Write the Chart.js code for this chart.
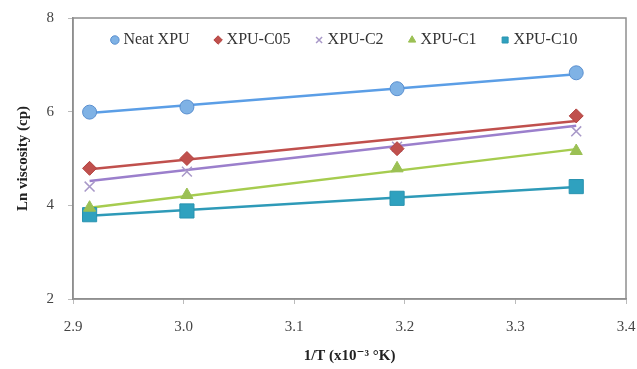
<!DOCTYPE html>
<html>
<head>
<meta charset="utf-8">
<script src="https://cdn.jsdelivr.net/npm/chart.js@4.4.1/dist/chart.umd.min.js"></script>
<style>
    html, body { margin: 0; padding: 0; background: #fff; }
    #wrap { width: 637px; height: 369px; position: relative; }
</style>
</head>
<body>
<div id="wrap"><canvas id="viscChart" width="637" height="369"></canvas></div>
<script>
// 1/T values (x10^-3 K^-1) of the four measurement temperatures
const invT = [2.915, 3.003, 3.193, 3.355];

// Ln viscosity
const neatXpu = [5.99, 6.10, 6.49, 6.83];
const xpuC05 = [4.79, 5.00, 5.21, 5.91];
const xpuC2 = [4.40, 4.72, 5.25, 5.58];
const xpuC1 = [3.95, 4.22, 4.79, 5.16];
const xpuC10 = [3.80, 3.88, 4.15, 4.40];

// trend line ends (first / last temperature)
const trendX = [2.915, 3.355];
const neatTrend = [5.97, 6.80];
const c05Trend = [4.77, 5.80];
const c2Trend = [4.52, 5.70];
const c1Trend = [3.95, 5.20];
const c10Trend = [3.78, 4.39];

const xTicks = [2.9, 3.0, 3.1, 3.2, 3.3, 3.4];
const yTicks = [2, 4, 6, 8];

const serif = "'Liberation Serif', 'DejaVu Serif', serif";

function pts(xs, ys) {
    return xs.map((x, i) => ({ x: x, y: ys[i] }));
}

function markerSet(label, ys, style, fill, edge, radius) {
    return {
        label: label,
        data: pts(invT, ys),
        showLine: false,
        pointStyle: style,
        pointRadius: radius,
        pointHoverRadius: radius,
        pointBackgroundColor: fill,
        pointBorderColor: edge,
        pointBorderWidth: style === 'crossRot' ? 1.5 : 1,
        backgroundColor: fill,
        borderColor: edge,
        order: 1
    };
}

function trendSet(ys, color) {
    return {
        label: '_trend',
        data: pts(trendX, ys),
        showLine: true,
        borderColor: color,
        borderWidth: 2.5,
        pointRadius: 0,
        fill: false,
        order: 2
    };
}

// grey frame round the plot area, like the spreadsheet original
const plotFrame = {
    id: 'plotFrame',
    afterDatasetsDraw(chart) {
        const a = chart.chartArea;
        const ctx = chart.ctx;
        ctx.save();
        ctx.strokeStyle = '#8f8f8f';
        ctx.lineWidth = 1.5;
        ctx.strokeRect(a.left, a.top, a.right - a.left, a.bottom - a.top);
        ctx.restore();
    }
};

// the legend sits inside the frame: it takes no room in the layout,
// then is moved over the plot area with its real height
const floatingLegend = {
    id: 'floatingLegend',
    beforeLayout(chart) {
        const lg = chart.legend;
        if (!lg || lg._floatPatched) return;
        const fit = lg.fit;
        lg.fit = function () {
            fit.call(this);
            this._realHeight = this.height;
            this.height = 0;
        };
        lg._floatPatched = true;
    },
    afterLayout(chart) {
        const lg = chart.legend;
        if (!lg || !lg._realHeight) return;
        const area = chart.chartArea;
        lg.left = area.left - 7;
        lg.right = area.right;
        lg.width = lg.right - lg.left;
        lg.top = area.top - 14;
        lg.height = lg._realHeight;
        lg.bottom = lg.top + lg._realHeight;
    }
};

function noEdgePadding(axis) {
    axis.paddingLeft = 0;
    axis.paddingRight = 0;
    axis.paddingTop = 0;
    axis.paddingBottom = 0;
}

const datasets = [
    trendSet(neatTrend, '#5b9ee6'),
    trendSet(c05Trend, '#c0504d'),
    trendSet(c2Trend, '#9b7fcc'),
    trendSet(c1Trend, '#a6cc4f'),
    trendSet(c10Trend, '#2e9ab8'),
    markerSet('Neat XPU', neatXpu, 'circle', '#7fb2e5', '#5a8fcf', 7),
    markerSet('XPU-C05', xpuC05, 'rectRot', '#c0504d', '#b2413e', 7),
    markerSet('XPU-C2', xpuC2, 'crossRot', '#b5a6d2', '#a898c8', 7),
    markerSet('XPU-C1', xpuC1, 'triangle', '#9bc054', '#9bc054', 7),
    markerSet('XPU-C10', xpuC10, 'rect', '#2fa1bf', '#2993b0', 10)
];

new Chart(document.getElementById('viscChart'), {
    type: 'scatter',
    data: { datasets },
    options: {
        responsive: false,
        animation: false,
        layout: { padding: { top: 18, right: 10, left: 10, bottom: 0 } },
        plugins: {
            tooltip: { enabled: false },
            legend: {
                position: 'top',
                align: 'center',
                labels: {
                    usePointStyle: true,
                    boxWidth: 1,
                    boxHeight: 6,
                    padding: 28,
                    color: '#333',
                    font: { family: serif, size: 16 },
                    filter: item => item.text !== '_trend'
                }
            }
        },
        scales: {
            x: {
                type: 'linear',
                min: 2.9,
                max: 3.4,
                afterBuildTicks: axis => { axis.ticks = xTicks.map(v => ({ value: v })); },
                afterFit: axis => { axis.height = 70; noEdgePadding(axis); },
                border: { color: '#8f8f8f', width: 1.5 },
                grid: { drawOnChartArea: false, tickLength: 5, color: '#bbb' },
                ticks: {
                    color: '#444',
                    font: { family: serif, size: 15 },
                    padding: 14,
                    maxRotation: 0,
                    callback: v => v.toFixed(1)
                },
                title: {
                    display: true,
                    text: '1/T (x10⁻³ °K)',
                    color: '#222',
                    font: { family: serif, size: 15, weight: 'bold' },
                    padding: { top: 6 }
                }
            },
            y: {
                min: 2,
                max: 8,
                afterBuildTicks: axis => { axis.ticks = yTicks.map(v => ({ value: v })); },
                afterFit: axis => { axis.width = 63; noEdgePadding(axis); },
                border: { color: '#8f8f8f', width: 1.5 },
                grid: { drawOnChartArea: false, tickLength: 5, color: '#bbb' },
                ticks: {
                    color: '#444',
                    font: { family: serif, size: 15 },
                    padding: 14
                },
                title: {
                    display: true,
                    text: 'Ln viscosity (cp)',
                    color: '#222',
                    font: { family: serif, size: 15, weight: 'bold' },
                    padding: { bottom: 8 }
                }
            }
        }
    },
    plugins: [plotFrame, floatingLegend]
});
</script>
</body>
</html>
